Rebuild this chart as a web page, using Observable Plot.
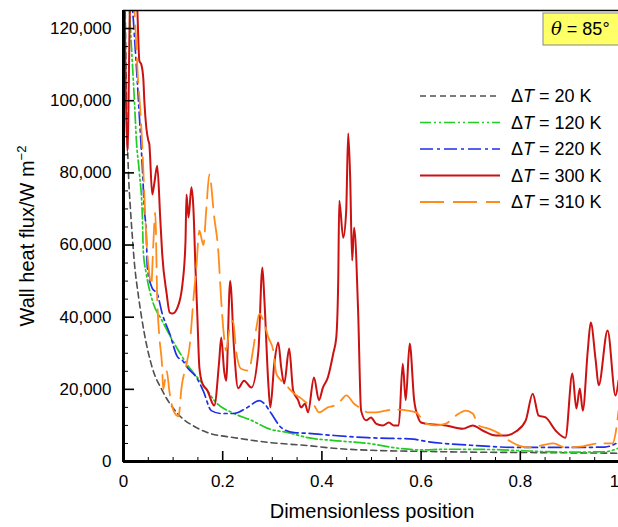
<!DOCTYPE html>
<html><head><meta charset="utf-8">
<script src="https://cdn.jsdelivr.net/npm/d3@7"></script>
<script src="https://cdn.jsdelivr.net/npm/@observablehq/plot@0.6"></script>
<style>
body{margin:0;background:#fff;}
#chart{width:618px;height:527px;overflow:hidden;position:relative;}
svg{display:block;}
</style></head><body><div id="chart"></div>
<script>
// ---- data ----
const seriesLabels = ["20", "120", "220", "300", "310"];

const x20 = [0.003,0.006,0.010,0.014,0.018,0.022,0.030,0.042,0.058,0.078,0.109,0.147,0.170,0.224,0.292,0.372,0.430,0.500,0.600,0.700,0.800,0.900,1.000];
const q20 = [130000,100000,80000,70000,62000,55000,46000,35500,26000,19700,13300,9400,8000,6600,5300,4400,3600,3100,2800,2600,2500,2400,2300];

const x120 = [0.010,0.016,0.022,0.026,0.032,0.038,0.040,0.046,0.058,0.078,0.107,0.133,0.159,0.169,0.183,0.223,0.258,0.292,0.332,0.372,0.425,0.493,0.559,0.600,0.650,0.750,0.800,0.900,0.970,1.000];
const q120 = [130000,115000,100000,89000,80000,68000,58000,52000,44700,39000,31600,26000,21600,19700,16900,13300,11400,9100,8000,6600,5800,5000,3600,3200,3400,3300,3000,2600,2700,3800];

const x220 = [0.016,0.022,0.028,0.034,0.038,0.042,0.046,0.048,0.058,0.068,0.078,0.093,0.109,0.119,0.129,0.147,0.161,0.177,0.197,0.223,0.250,0.274,0.284,0.298,0.318,0.344,0.372,0.425,0.493,0.585,0.600,0.700,0.800,0.900,0.970,1.000];
const q220 = [130000,118000,105000,91000,81500,70000,63000,54000,48000,46500,41000,35500,29000,28000,26000,23300,19500,14100,13300,13300,15000,16900,16000,13300,9400,8000,7800,7200,6600,6200,5800,4500,3900,3900,4000,5500];

const x300 = [0.002,0.008,0.014,0.026,0.032,0.036,0.040,0.042,0.046,0.050,0.052,0.058,0.062,0.068,0.074,0.078,0.087,0.093,0.099,0.109,0.119,0.125,0.127,0.131,0.137,0.141,0.145,0.149,0.153,0.159,0.169,0.183,0.193,0.197,0.203,0.207,0.215,0.223,0.231,0.243,0.258,0.272,0.280,0.284,0.292,0.296,0.304,0.312,0.318,0.324,0.334,0.342,0.352,0.358,0.366,0.372,0.384,0.394,0.402,0.412,0.423,0.429,0.433,0.435,0.443,0.449,0.453,0.457,0.461,0.465,0.473,0.479,0.489,0.499,0.509,0.523,0.535,0.545,0.555,0.563,0.569,0.577,0.586,0.594,0.600,0.610,0.650,0.684,0.704,0.724,0.751,0.771,0.791,0.811,0.825,0.837,0.851,0.871,0.891,0.905,0.913,0.920,0.926,0.936,0.942,0.952,0.958,0.976,0.992,0.998];
const q300 = [130000,86000,130000,130000,111000,110000,106000,100000,92500,89000,88000,74000,77000,82000,67600,57600,46500,41300,41000,42700,49300,61000,74000,67600,76000,70000,54000,40000,26000,21600,19700,15500,28000,34400,25000,22400,50000,31000,20300,22400,20500,30700,53800,45000,21600,15000,27100,33000,26000,21600,31300,19700,17000,15000,16000,13600,23300,17000,20500,23300,30000,34400,51000,72300,62000,69500,91000,78700,55700,64800,41800,14100,11400,12200,10500,10000,10800,10000,10000,27100,17000,32700,17000,12200,10800,10500,10000,9100,10000,8600,7200,7200,8300,11400,18800,12700,12200,8600,6600,24400,14700,20200,14100,30700,38500,28000,21100,36300,18300,22400];

const x310 = [0.020,0.026,0.028,0.034,0.038,0.042,0.046,0.052,0.056,0.060,0.064,0.068,0.072,0.078,0.080,0.087,0.093,0.101,0.111,0.117,0.127,0.133,0.141,0.147,0.153,0.161,0.167,0.173,0.183,0.191,0.197,0.201,0.207,0.213,0.221,0.227,0.237,0.252,0.262,0.268,0.274,0.282,0.292,0.302,0.308,0.318,0.332,0.344,0.358,0.372,0.384,0.394,0.412,0.425,0.439,0.449,0.465,0.479,0.493,0.509,0.529,0.545,0.573,0.590,0.610,0.630,0.650,0.670,0.690,0.704,0.716,0.736,0.757,0.777,0.797,0.815,0.841,0.867,0.891,0.926,0.958,0.986,0.992,0.998];
const q310 = [130000,115000,109000,97000,87000,74000,62000,52000,49000,60000,69000,45000,35000,26000,20000,25000,19000,14000,12500,20500,27000,31600,45000,54000,64000,60000,70000,79500,67600,58500,44600,37100,30700,36300,39000,30700,25700,25200,31600,37100,41000,39000,34400,30700,24400,22400,20500,18800,17500,16000,15500,13600,15000,15500,17000,18300,16000,14700,13600,13600,14100,14400,14100,13600,10500,10000,10500,12700,14100,13300,10000,9100,7800,5800,4400,3900,4400,5000,3900,4200,5000,5000,7800,14000];

const xMajor = [0, 0.2, 0.4, 0.6, 0.8, 1];
const xMinor = [0.05,0.1,0.15,0.25,0.3,0.35,0.45,0.5,0.55,0.65,0.7,0.75,0.85,0.9,0.95];
const yMajor = [0, 20000, 40000, 60000, 80000, 100000, 120000];
const yMinor = [5000,10000,15000,25000,30000,35000,45000,50000,55000,65000,70000,75000,85000,90000,95000,105000,110000,115000,125000];

// ---- styles ----
const styles = [
  {color: "#505050", dash: "6,4", width: 1.6},
  {color: "#22cc22", dash: "11,3,2,3,2,3", width: 1.7},
  {color: "#1f2fe6", dash: "13,4,3,4", width: 1.7},
  {color: "#cc1111", dash: null, width: 2},
  {color: "#ff8c1a", dash: "24,9", width: 1.8}
];
const xs = [x20, x120, x220, x300, x310];
const qs = [q20, q120, q220, q300, q310];
const rows = xs.map((xa, i) => xa.map((x, j) => ({x, q: qs[i][j]})));

const W = 618, H = 527, mL = 123, mT = 10, mB = 65, mR = 0;
const pw = W - mL - mR, ph = H - mT - mB;

const lineMarks = rows.map((data, i) => Plot.line(data, {
  x: "x", y: "q", stroke: styles[i].color, strokeWidth: styles[i].width,
  strokeDasharray: styles[i].dash || undefined, curve: "monotone-x", clip: true
}));

const plot = Plot.plot({
  width: W, height: H,
  marginLeft: mL, marginRight: mR, marginTop: mT, marginBottom: mB,
  style: {fontFamily: "'Liberation Sans', Arial, Helvetica, sans-serif", fontSize: "17px", background: "#fff", color: "#000", overflow: "hidden"},
  x: {domain: [0, 1], range: [123, 619]},
  y: {domain: [0, 125000], range: [461, 10]},
  marks: [
    Plot.frame({stroke: "#999", strokeWidth: 1}),
    ...lineMarks,
    Plot.ruleY(yMinor, {insetRight: pw - 5, stroke: "#000", strokeWidth: 1}),
    Plot.ruleY(yMajor, {insetRight: pw - 11, stroke: "#000", strokeWidth: 1.6}),
    Plot.ruleX(xMinor, {insetTop: ph - 5, stroke: "#000", strokeWidth: 1}),
    Plot.ruleX(xMajor.slice(1), {insetTop: ph - 11, stroke: "#000", strokeWidth: 1.6}),
    Plot.ruleY([125000], {stroke: "#000", strokeWidth: 1.5}),
    Plot.ruleX([0], {stroke: "#000", strokeWidth: 3}),
    Plot.ruleY([0], {stroke: "#000", strokeWidth: 3}),
    Plot.axisY({ticks: yMajor, tickSize: 0, tickPadding: 12, tickFormat: d3.format(","), label: null}),
    Plot.axisX({ticks: xMajor.slice(0, 5), tickSize: 0, tickPadding: 12, tickFormat: d => String(d), label: null}),
    Plot.axisX({ticks: xMajor.slice(5), tickSize: 0, tickPadding: 12, dx: -5, tickFormat: d => String(d), label: null})
  ]
});

document.getElementById("chart").appendChild(plot);
const svg = d3.select(plot);
const font = "'Liberation Sans', Arial, Helvetica, sans-serif";

// axis titles
svg.append("text").attr("x", 372).attr("y", 518).attr("text-anchor", "middle")
  .attr("font-family", font).attr("font-size", 20).attr("fill", "#000").text("Dimensionless position");
const yt = svg.append("text").attr("transform", "translate(34,236) rotate(-90)").attr("text-anchor", "middle")
  .attr("font-family", font).attr("font-size", 20).attr("fill", "#000");
yt.append("tspan").text("Wall heat flux/W m");
yt.append("tspan").attr("dy", -8).attr("font-size", 13).text("\u22122");

// legend
const lg = svg.append("g").attr("text-anchor", "start");
seriesLabels.forEach((lab, i) => {
  const y = 96 + i * 26.5;
  const s = styles[i];
  lg.append("line").attr("x1", 420).attr("x2", 500).attr("y1", y).attr("y2", y)
    .attr("stroke", s.color).attr("stroke-width", s.width).attr("stroke-dasharray", s.dash);
  const t = lg.append("text").attr("x", 511).attr("y", y).attr("dy", "0.35em").attr("text-anchor", "start")
    .attr("font-family", font).attr("font-size", 18).attr("fill", "#000");
  t.append("tspan").text("\u0394");
  t.append("tspan").attr("font-style", "italic").text("T");
  t.append("tspan").text(" = " + lab + " K");
});

// theta box
svg.append("rect").attr("x", 543).attr("y", 13).attr("width", 80).attr("height", 32)
  .attr("fill", "#ffff66").attr("stroke", "#888").attr("stroke-width", 1);
const th = svg.append("text").attr("x", 551).attr("y", 29).attr("dy", "0.35em").attr("text-anchor", "start")
  .attr("font-family", font).attr("font-size", 18).attr("fill", "#000");
th.append("tspan").attr("font-family", "'DejaVu Serif', 'Liberation Serif', serif").attr("font-style", "italic").text("\u03b8");
th.append("tspan").text(" = 85\u00b0");
</script>
</body></html>
